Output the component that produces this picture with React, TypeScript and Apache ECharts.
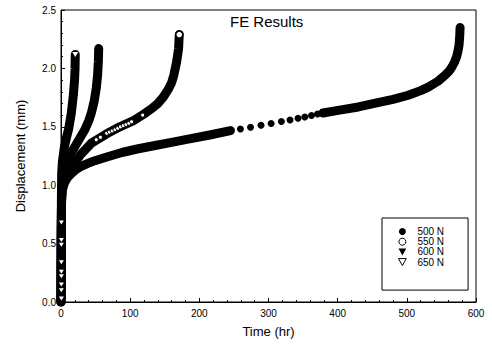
import React, { useEffect, useRef } from "react";
import * as echarts from "echarts";

// Series names (legend order)
const seriesNames = ["500 N", "550 N", "600 N", "650 N"];

// 500 N: dense part, sparse dotted part, dense part  [time (hr), displacement (mm)]
const load500Early: [number, number][] = [
  [0, 0], [0.2, 0.3], [0.5, 0.6], [0.8, 0.85], [2, 0.96], [5, 1.02], [10, 1.07],
  [15, 1.1], [22, 1.135], [29, 1.16], [38, 1.185], [49, 1.21], [65, 1.24], [88, 1.28],
  [110, 1.31], [136, 1.34], [158, 1.365], [180, 1.39], [215, 1.43], [245, 1.468],
];
const load500Dots: [number, number][] = [
  [245, 1.468], [259.4, 1.481], [274, 1.496], [289.2, 1.513], [303.8, 1.528],
  [318.6, 1.545], [331.1, 1.558], [342.7, 1.573], [352.5, 1.584], [362.2, 1.597],
  [370.9, 1.61], [378.6, 1.618],
];
const load500Late: [number, number][] = [
  [378.6, 1.618], [405, 1.645], [430, 1.67], [453, 1.7], [480, 1.735], [502, 1.77],
  [520, 1.81], [531, 1.84], [545, 1.89], [555, 1.94], [561, 1.975], [565, 2.01],
  [569, 2.055], [572, 2.1], [574, 2.15], [575.5, 2.2], [576.5, 2.28], [577, 2.35],
];

// 550 N
const load550: [number, number][] = [
  [0, 0], [0.3, 0.5], [0.8, 0.92], [3, 1.04], [8, 1.09], [15, 1.14], [28, 1.26],
  [44, 1.36], [66, 1.44], [85, 1.5], [104, 1.55], [120, 1.61], [132, 1.66], [140, 1.7],
  [148, 1.755], [155, 1.82], [160, 1.88], [163, 1.94], [167, 2.05], [170, 2.17], [171, 2.29],
];
const load550Marks: [number, number][] = [
  [51, 1.39], [57, 1.41], [66, 1.445], [70, 1.455], [74, 1.465], [78, 1.475],
  [82, 1.487], [86, 1.5], [90, 1.51], [94, 1.52], [98, 1.53], [102, 1.543], [118, 1.6],
];
const load550End: [number, number][] = [[171, 2.29]];

// 600 N
const load600: [number, number][] = [
  [0, 0], [0.3, 0.5], [0.8, 0.9], [2, 1.05], [5, 1.15], [10, 1.22], [15, 1.28],
  [24, 1.37], [34, 1.47], [40, 1.55], [44, 1.62], [48, 1.72], [51, 1.83],
  [53, 1.95], [54, 2.06], [54.5, 2.17],
];

// 650 N
const load650: [number, number][] = [
  [0, 0], [0.3, 0.5], [0.6, 0.9], [1, 1.1], [2, 1.2], [5, 1.33], [8, 1.41],
  [11, 1.48], [15, 1.62], [18, 1.78], [19.6, 1.9], [20.3, 2.0], [20.6, 2.12],
];
const load650Marks: [number, number][] = [
  [0.5, 0.03], [0.5, 0.1], [0.5, 0.15], [0.5, 0.22], [0.5, 0.26], [0.5, 0.34],
  [0.5, 0.49], [0.5, 0.53], [0.5, 0.68],
];
const load650End: [number, number][] = [[20.6, 2.12]];

// Axes
const xMin = 0, xMax = 600, xStep = 100;
const yMin = 0, yMax = 2.5, yStep = 0.5;

const FONT = "'Liberation Sans', Arial, Helvetica, sans-serif";
const DOWN_TRI = "path://M0,0L10,0L5,9Z";

export default function App() {
  const ref = useRef<HTMLDivElement>(null);

  useEffect(() => {
    if (!ref.current) return;
    const chart = echarts.init(ref.current, undefined, { renderer: "svg" });

    const thick = (name: string, data: [number, number][]) => ({
      name,
      type: "line",
      data,
      symbol: "none",
      showSymbol: false,
      smooth: false,
      silent: true,
      lineStyle: { color: "#000", width: 9, cap: "round", join: "round", type: "solid", opacity: 1 },
      itemStyle: { color: "#000" },
      emphasis: { disabled: true },
      z: 2,
    });

    chart.setOption({
      animation: false,
      textStyle: { fontFamily: FONT, color: "#000" },
      title: {
        text: "FE Results",
        left: 230,
        top: 14,
        padding: 0,
        textStyle: { fontFamily: FONT, fontSize: 15, fontWeight: "normal", color: "#000" },
      },
      grid: {
        left: 61, right: 16, top: 10, bottom: 43,
        show: true, borderColor: "#000", borderWidth: 1, backgroundColor: "transparent",
      },
      legend: {
        orient: "vertical",
        left: 382,
        top: 218,
        padding: [8.5, 24, 23, 16],
        borderColor: "#000",
        borderWidth: 1,
        itemWidth: 20,
        itemHeight: 7,
        itemGap: 0.2,
        selectedMode: false,
        textStyle: { fontFamily: FONT, fontSize: 10, lineHeight: 9, color: "#000" },
        data: [
          { name: seriesNames[0], icon: "circle", itemStyle: { color: "#000", borderWidth: 0 } },
          { name: seriesNames[1], icon: "circle", itemStyle: { color: "#fff", borderColor: "#000", borderWidth: 1 } },
          { name: seriesNames[2], icon: DOWN_TRI, itemStyle: { color: "#000", borderWidth: 0 } },
          { name: seriesNames[3], icon: DOWN_TRI, itemStyle: { color: "#fff", borderColor: "#000", borderWidth: 1 } },
        ],
      },
      xAxis: {
        type: "value",
        min: xMin, max: xMax, interval: xStep,
        name: "Time (hr)",
        nameLocation: "middle",
        nameGap: 23,
        nameTextStyle: { fontFamily: FONT, fontSize: 13, color: "#000" },
        axisLine: { show: true, lineStyle: { color: "#000", width: 1 } },
        axisTick: { show: true, inside: true, length: 4, lineStyle: { color: "#000" } },
        minorTick: { show: true, splitNumber: 5, length: 2, lineStyle: { color: "#000" } },
        axisLabel: { fontFamily: FONT, fontSize: 10, color: "#000", margin: 6 },
        splitLine: { show: false },
      },
      yAxis: {
        type: "value",
        min: yMin, max: yMax, interval: yStep,
        name: "Displacement (mm)",
        nameLocation: "middle",
        nameGap: 34,
        nameTextStyle: { fontFamily: FONT, fontSize: 13, color: "#000" },
        axisLine: { show: true, lineStyle: { color: "#000", width: 1 } },
        axisTick: { show: true, inside: true, length: 4, lineStyle: { color: "#000" } },
        minorTick: { show: true, splitNumber: 5, length: 2, lineStyle: { color: "#000" } },
        axisLabel: {
          fontFamily: FONT, fontSize: 10, color: "#000", margin: 5,
          formatter: (v: number) => v.toFixed(1),
        },
        splitLine: { show: false },
      },
      series: [
        thick(seriesNames[0], load500Early),
        {
          name: seriesNames[0], type: "scatter", data: load500Dots, symbol: "circle",
          symbolSize: 7, silent: true, itemStyle: { color: "#000", opacity: 1 }, z: 2,
        },
        thick(seriesNames[0], load500Late),
        thick(seriesNames[1], load550),
        {
          name: seriesNames[1], type: "scatter", data: load550Marks, symbol: "circle",
          symbolSize: 4, silent: true,
          itemStyle: { color: "#fff", borderColor: "#000", borderWidth: 1, opacity: 1 }, z: 3,
        },
        {
          name: seriesNames[1], type: "scatter", data: load550End, symbol: "circle",
          symbolSize: 7, silent: true,
          itemStyle: { color: "#fff", borderColor: "#000", borderWidth: 1.5, opacity: 1 }, z: 4,
        },
        thick(seriesNames[2], load600),
        thick(seriesNames[3], load650),
        {
          name: seriesNames[3], type: "scatter", data: load650Marks, symbol: DOWN_TRI,
          symbolSize: [5, 4], silent: true, itemStyle: { color: "#fff", opacity: 1 }, z: 4,
        },
        {
          name: seriesNames[3], type: "scatter", data: load650End, symbol: DOWN_TRI,
          symbolSize: [6, 5], silent: true, itemStyle: { color: "#fff", opacity: 1 }, z: 4,
        },
      ],
    });

    return () => chart.dispose();
  }, []);

  return <div ref={ref} style={{ width: 492, height: 345, position: "absolute", left: 0, top: 0 }} />;
}
